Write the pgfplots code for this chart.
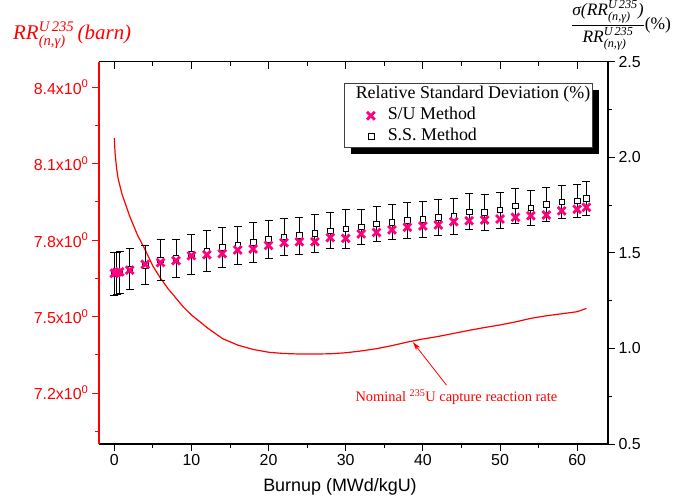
\documentclass[border=0pt]{standalone}
\usepackage{fontspec}
\setmainfont{Liberation Serif}
\setsansfont{Liberation Sans}
\usepackage{amsmath}
\usepackage{pgfplots}
\usepackage{pgfplotstable}
\pgfplotsset{compat=1.18}
\usetikzlibrary{shadows,arrows.meta}
\definecolor{sumag}{RGB}{255,0,128}

\pgfplotstableread{
x y
0 8.200
0.1 8.140
0.3 8.080
0.5 8.040
1.0 7.980
2.0 7.893
3.0 7.820
4.0 7.762
5.0 7.698
6.0 7.650
7.0 7.608
8.0 7.572
9.0 7.536
10.0 7.506
11.0 7.482
12.0 7.457
14.0 7.414
16.0 7.388
18.0 7.371
20.0 7.360
22.0 7.355
24.0 7.353
26.0 7.353
28.0 7.354
30.0 7.358
32.0 7.365
34.0 7.374
36.0 7.386
38.0 7.400
40.0 7.412
42.0 7.422
44.0 7.434
46.0 7.446
48.0 7.457
50.0 7.467
52.0 7.479
54.0 7.493
56.0 7.503
58.0 7.511
60.0 7.519
61.2 7.532
}\curve

\pgfplotstableread{
x y
0 1.393
0.3 1.397
0.7 1.401
2 1.410
4 1.440
6 1.449
8 1.459
10 1.485
12 1.490
14 1.496
16 1.515
18 1.520
20 1.539
22 1.553
24 1.558
26 1.558
28 1.580
30 1.576
32 1.599
34 1.607
36 1.620
38 1.634
40 1.640
42 1.646
44 1.663
46 1.668
48 1.672
50 1.677
52 1.686
54 1.694
56 1.698
58 1.720
60 1.728
61.2 1.738
}\su

\pgfplotstableread{
x y e
0 1.390 0.110
0.3 1.392 0.110
0.7 1.396 0.110
2 1.415 0.107
4 1.435 0.102
6 1.463 0.105
8 1.470 0.100
10 1.494 0.105
12 1.510 0.105
14 1.528 0.105
16 1.540 0.100
18 1.555 0.103
20 1.571 0.100
22 1.583 0.097
24 1.590 0.098
26 1.602 0.098
28 1.616 0.093
30 1.625 0.100
32 1.637 0.092
34 1.652 0.092
36 1.661 0.092
38 1.669 0.093
40 1.675 0.096
42 1.686 0.095
44 1.691 0.094
46 1.715 0.094
48 1.713 0.094
50 1.724 0.094
52 1.746 0.092
54 1.735 0.090
56 1.754 0.090
58 1.766 0.088
60 1.773 0.087
61.2 1.785 0.090
}\ss

\begin{document}
\begin{tikzpicture}
\pgfplotsset{
  common/.style={
    at={(98.9bp,54bp)}, anchor=south west,
    scale only axis, width=509.1bp, height=382.3bp,
    xmin=-2, xmax=64,
    major tick length=7bp, minor tick length=4bp,
    ticklabel style={font=\sffamily\fontsize{16}{16}\selectfont},
    /pgf/number format/assume math mode=true,
  }
}
% left axis: nominal reaction rate
\begin{axis}[common,
  ymin=7, ymax=8.5,
  axis x line*=bottom, axis y line*=left,
  tick align=outside,
  xtick={0,10,...,60}, minor xtick={5,15,...,55},
  ytick={7.2,7.5,7.8,8.1,8.4},
  yticklabels={7.2x10\textsuperscript{0},7.5x10\textsuperscript{0},7.8x10\textsuperscript{0},8.1x10\textsuperscript{0},8.4x10\textsuperscript{0}},
  minor ytick={7.05,7.35,7.65,7.95,8.25},
  x axis line style={black, line width=1.2bp, -},
  y axis line style={red, line width=1.2bp, -},
  xtick style={black, line width=1bp},
  ytick style={red, line width=1bp},
  yticklabel style={red},
]
\addplot[red, line width=1.2bp] table[x=x,y=y] {\curve};
\draw[red, line width=0.8bp, -{Stealth[length=9bp,width=5bp]}] (axis cs:43.06,7.231) -- (axis cs:38.7,7.40);
\node[red, font=\fontsize{14.5}{15}\selectfont] at (axis cs:44.35,7.183) {Nominal \textsuperscript{235}U capture reaction rate};
\end{axis}
% right axis: relative standard deviation
\begin{axis}[common,
  ymin=0.5, ymax=2.5,
  axis y line*=right, hide x axis,
  tick align=outside,
  ytick={0.5,1.0,1.5,2.0,2.5}, minor ytick={0.75,1.25,1.75,2.25},
  yticklabel style={/pgf/number format/.cd, fixed, fixed zerofill, precision=1},
  y axis line style={black, line width=1.2bp, -},
  ytick style={black, line width=1bp},
  legend style={at={(0.4814,0.9435)}, anchor=north west,
    draw=black!75, line width=0.8bp, fill=white,
    font=\fontsize{18}{19}\selectfont,
    inner xsep=18bp, inner ysep=2bp,
    nodes={inner sep=1bp, text height=12bp, text depth=4bp},
    row sep=3bp, column sep=12bp,
    drop shadow={shadow xshift=6.5bp, shadow yshift=-6bp, fill=black, opacity=1}},
  legend cell align=left,
]
\addplot[forget plot, only marks, mark=square*, mark size=2.8bp,
  mark options={fill=white, draw=black, line width=0.7bp},
  error bars/.cd, y dir=both, y explicit,
  error bar style={black, line width=0.8bp},
  error mark options={rotate=90, mark size=4bp, black, line width=0.8bp}]
  table[x=x, y=y, y error=e] {\ss};
\addplot[forget plot, only marks, mark=x, mark size=5.5bp, color=sumag, line width=2.8bp] table[x=x,y=y] {\su};
\addlegendimage{empty legend}
\addlegendentry{\hspace*{-32bp}Relative Standard Deviation (\%)\hspace*{-17bp}}
\addlegendimage{only marks, mark=x, mark size=5.5bp, color=sumag, line width=2.8bp}
\addlegendentry{S/U Method}
\addlegendimage{only marks, black, mark=square*, mark size=3bp, mark options={solid, fill=white, draw=black, line width=0.7bp}}
\addlegendentry{S.S. Method}
\end{axis}
% top axis line with inward ticks
\begin{axis}[common,
  ymin=0, ymax=1,
  axis x line*=top, hide y axis,
  tick align=inside,
  xtick={0,10,...,60}, minor xtick={5,15,...,55},
  xticklabels={},
  x axis line style={black, line width=1.2bp, -},
  xtick style={black, line width=1bp},
]
\end{axis}
% axis titles
\node[anchor=base west, red, inner sep=0pt, font=\fontsize{21}{21}\selectfont] at (13bp,458.7bp)
  {\textit{RR}$^{\textit{U\,235}}_{\textit{(n,γ)}}$\,\textit{(barn)}};
\node[anchor=west, inner sep=0pt, font=\fontsize{17.5}{17.5}\selectfont] at (571bp,473bp)
  {$\dfrac{\textit{σ(RR}^{\textit{U\,235}}_{\textit{(n,γ)}}\textit{)}}{\textit{RR}^{\textit{U\,235}}_{\textit{(n,γ)}}}$(\%)};
\node[font=\sffamily\fontsize{18}{18}\selectfont] at (340bp,11bp) {Burnup (MWd/kgU)};
\pgfresetboundingbox
\path[use as bounding box] (0,0) rectangle (688bp,498bp);
\end{tikzpicture}
\end{document}
